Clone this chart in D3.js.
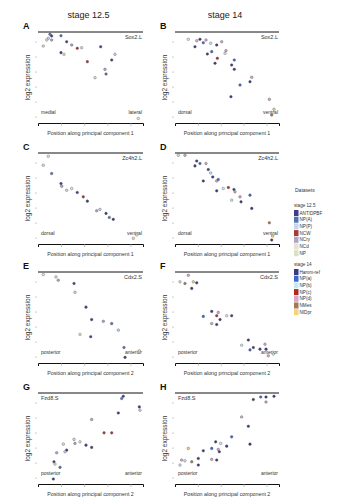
<!DOCTYPE html>
<html>
<head>
<meta charset="utf-8">
<script src="https://cdn.jsdelivr.net/npm/d3@7"></script>
<style>
  body { margin: 0; background: #fff; }
  svg { display: block; font-family: "Liberation Sans", Arial, sans-serif; }
</style>
</head>
<body>
<div id="chart"></div>
<script>
// data: [position along PC (0-100), log2 expression (0-10), dataset index]
const sox2S125 = [[11.4,9.75,1],[13.0,9.56,0],[9.8,9.31,2],[13.0,9.12,4],[8.3,9.12,5],[21.9,9.59,1],[5.0,8.46,6],[27.3,8.93,0],[32.1,8.57,4],[37.4,8.21,3],[41.6,8.27,2],[21.9,7.73,0],[24.8,7.55,5],[47.0,6.74,3],[59.7,8.38,0],[73.3,7.55,2],[70.2,6.92,0],[63.8,5.90,4],[64.8,5.38,1],[54.3,4.98,6],[95.5,0.5,5]];
const sox2S14 = [[12.8,9.20,2],[20.9,9.04,4],[24.0,9.20,0],[27.2,8.82,1],[29.8,9.12,4],[19.2,8.38,0],[34.3,8.76,2],[40.1,8.57,0],[44.9,8.93,4],[35.3,7.84,1],[31.1,7.58,0],[49.0,7.95,4],[48.1,7.66,2],[40.7,7.11,3],[38.5,6.56,0],[57.0,6.92,1],[54.5,6.37,0],[57.0,5.90,0],[73.8,5.02,4],[72.1,4.54,0],[62.5,4.18,1],[53.8,2.89,0],[90.7,2.60,4],[95.2,1.51,6],[93.0,0.88,5]];
const zc4h2S125 = [[9.8,9.64,5],[5.0,8.65,6],[13.0,7.74,1],[21.9,6.64,0],[22.6,6.35,4],[27.3,5.91,2],[32.1,6.10,5],[37.4,5.66,0],[43.1,5.18,3],[47.0,4.71,0],[59.0,3.80,2],[55.9,3.65,4],[64.8,3.36,0],[67.9,2.92,1],[71.7,2.71,0],[94.0,0.99,5],[90.8,0.62,6]];
const zc4h2S14 = [[3.2,9.75,2],[9.6,9.75,4],[20.9,9.12,0],[24.0,8.84,1],[19.2,8.58,0],[29.8,8.84,4],[32.0,8.18,0],[34.3,7.81,2],[36.3,7.37,0],[27.2,6.93,0],[40.1,6.93,4],[41.6,7.09,1],[46.4,6.10,2],[51.3,6.21,3],[56.7,5.99,0],[57.7,5.73,4],[40.1,5.84,0],[72.1,5.37,1],[62.5,5.18,4],[63.5,4.63,0],[54.5,4.82,2],[73.8,3.91,0],[90.7,2.33,5],[93.9,0.88,6],[93.0,0.44,0]];
const cdx2S125 = [[5.0,9.72,5],[17.1,9.46,6],[19.3,9.10,4],[34.3,8.74,0],[35.2,7.77,2],[45.7,6.14,0],[51.1,4.77,0],[62.2,4.58,4],[70.2,4.33,1],[76.5,3.61,2],[40.0,3.14,5],[50.2,2.89,0],[81.9,1.70,1],[96.5,1.33,6],[82.9,0.62,0]];
const cdx2S14 = [[12.8,9.64,4],[4.8,8.92,2],[9.6,8.74,5],[17.6,8.92,6],[20.9,8.81,0],[16.1,8.20,0],[35.3,5.67,0],[41.6,5.56,4],[27.2,5.12,1],[40.1,5.20,3],[43.3,4.77,0],[49.7,5.20,2],[54.5,5.20,0],[35.3,4.33,4],[40.1,4.23,0],[70.5,2.52,0],[64.1,1.95,2],[75.3,1.70,0],[86.5,2.06,4],[72.1,1.44,1],[81.7,1.52,0],[87.5,1.52,0],[94.5,0.98,2],[89.7,0.79,4]];
const fzd8S125 = [[81.2,9.64,0],[79.7,9.39,1],[96.5,8.47,0],[97.1,8.11,2],[76.5,7.81,0],[51.1,7.09,4],[62.9,5.62,3],[70.2,5.62,3],[34.3,4.90,2],[40.0,4.63,5],[35.2,4.46,4],[45.7,4.27,0],[51.1,4.02,0],[24.1,4.38,6],[27.3,3.72,0],[25.7,3.54,2],[17.8,3.43,4],[15.2,2.44,0],[21.0,1.83,1],[16.2,2.19,5],[14.6,0.55,0]];
const fzd8S14 = [[75.3,9.28,0],[82.4,9.56,1],[87.5,9.56,0],[95.2,9.64,0],[87.5,9.01,4],[64.1,7.37,4],[70.5,6.35,0],[54.5,5.18,1],[72.1,4.38,0],[39.1,4.63,0],[43.9,4.46,2],[49.7,4.16,0],[35.3,3.91,1],[41.6,3.80,4],[42.6,3.54,0],[27.2,3.65,0],[12.8,3.91,6],[22.4,2.81,0],[6.4,2.63,4],[9.6,2.55,2],[16.1,2.44,5],[22.4,2.08,0],[35.3,2.71,4],[40.1,2.63,0],[4.8,2.08,2]];

const stageTitles = ["stage 12.5", "stage 14"];
const datasets125 = ["ANT/DPBF", "NP(A)", "NP(P)", "NCW", "NCry", "NCd", "NP"];
const colors125 = ["#403f86", "#4f74ae", "#c8d5ee", "#a33b3b", "#b2a3c8", "#e8e1d0", "#dfe0c3"];
const datasets14 = ["Hamm-ref", "NP(a)", "NP(b)", "NP(c)", "NP(d)", "NMes", "NIDpr"];
const colors14 = ["#3a3a80", "#3b67d0", "#c7e8ee", "#b22a1e", "#d8a6c6", "#a47a52", "#f4d479"];
const xTicks = [22, 44, 66, 88];
const yTicks = [0.7, 2.35, 4, 5.65, 7.3, 8.95];

const panels = [
    {letter: "A", gene: "Sox2.L", data: sox2S125, stage: 0, pc: 1, lo: "medial", hi: "lateral"},
    {letter: "B", gene: "Sox2.L", data: sox2S14, stage: 1, pc: 1, lo: "dorsal", hi: "ventral"},
    {letter: "C", gene: "Zc4h2.L", data: zc4h2S125, stage: 0, pc: 1, lo: "dorsal", hi: "ventral"},
    {letter: "D", gene: "Zc4h2.L", data: zc4h2S14, stage: 1, pc: 1, lo: "dorsal", hi: "ventral"},
    {letter: "E", gene: "Cdx2.S", data: cdx2S125, stage: 0, pc: 2, lo: "posterior", hi: "anterior"},
    {letter: "F", gene: "Cdx2.S", data: cdx2S14, stage: 1, pc: 2, lo: "posterior", hi: "anterior"},
    {letter: "G", gene: "Fzd8.S", data: fzd8S125, stage: 0, pc: 2, lo: "posterior", hi: "anterior", geneLeft: true},
    {letter: "H", gene: "Fzd8.S", data: fzd8S14, stage: 1, pc: 2, lo: "posterior", hi: "anterior", geneLeft: true}
];

const w = 353;
const h = 500;
const cols = [{x0: 38, x1: 143}, {x0: 175, x1: 279}];
const rowTops = [32, 153, 272, 393];
const plotH = 91;

const svg = d3.select('#chart')
    .append('svg')
    .attr('width', w)
    .attr('height', h);

// Stage titles
stageTitles.forEach((t, i) => {
    svg.append('text')
        .attr('x', (cols[i].x0 + cols[i].x1) / 2 - 2)
        .attr('y', 18)
        .attr('text-anchor', 'middle')
        .attr('font-size', 9)
        .attr('fill', '#222')
        .text(t);
});

panels.forEach((p, i) => {
    const col = cols[i % 2];
    const top = rowTops[Math.floor(i / 2)];
    const bottom = top + plotH;
    const colors = p.stage === 0 ? colors125 : colors14;

    const xScale = d3.scaleLinear().domain([0, 100]).range([col.x0, col.x1]);
    const yScale = d3.scaleLinear().domain([0, 10]).range([bottom, top]);

    const g = svg.append('g');

    // panel letter
    g.append('text')
        .attr('x', col.x0 - 15)
        .attr('y', top - 3)
        .attr('font-size', 9)
        .attr('font-weight', 'bold')
        .attr('fill', '#111')
        .text(p.letter);

    // top frame line
    g.append('line')
        .attr('x1', col.x0).attr('x2', col.x1)
        .attr('y1', top).attr('y2', top)
        .attr('stroke', '#111').attr('stroke-width', 1);

    // x axis
    const xAxis = d3.axisBottom(xScale)
        .tickValues(xTicks)
        .tickSize(3)
        .tickFormat('');
    const xg = g.append('g')
        .attr('transform', `translate(0, ${bottom})`)
        .call(xAxis);
    xg.select('.domain').attr('stroke', '#111').attr('stroke-width', 1);
    xg.selectAll('.tick line').attr('stroke', '#999').attr('stroke-width', 0.6);

    // y axis (ticks only)
    const yAxis = d3.axisLeft(yScale)
        .tickValues(yTicks)
        .tickSize(2)
        .tickFormat('');
    const yg = g.append('g')
        .attr('transform', `translate(${col.x0 - 1}, 0)`)
        .call(yAxis);
    yg.select('.domain').remove();
    yg.selectAll('.tick line').attr('stroke', '#aaa').attr('stroke-width', 0.6);

    // axis titles
    g.append('text')
        .attr('transform', `translate(${col.x0 - 8}, ${top + plotH / 2}) rotate(-90)`)
        .attr('text-anchor', 'middle')
        .attr('font-size', 6.5)
        .attr('fill', '#333')
        .text('log2 expression');
    g.append('text')
        .attr('x', (col.x0 + col.x1) / 2)
        .attr('y', bottom + 12)
        .attr('text-anchor', 'middle')
        .attr('font-size', 5.3)
        .attr('fill', '#333')
        .text('Position along principal component ' + p.pc);

    // gene name
    g.append('text')
        .attr('x', p.geneLeft ? col.x0 + 3 : col.x1 - 1)
        .attr('y', top + 7)
        .attr('text-anchor', p.geneLeft ? 'start' : 'end')
        .attr('font-size', 5.5)
        .attr('fill', '#333')
        .text(p.gene);

    // axis direction labels
    g.append('text')
        .attr('x', col.x0 + 3)
        .attr('y', bottom - 9)
        .attr('font-size', 5)
        .attr('fill', '#333')
        .text(p.lo);
    g.append('text')
        .attr('x', col.x1 - 1)
        .attr('y', bottom - 9)
        .attr('text-anchor', 'end')
        .attr('font-size', 5)
        .attr('fill', '#333')
        .text(p.hi);

    // points
    g.selectAll('circle')
        .data(p.data)
        .join('circle')
        .attr('cx', d => xScale(d[0]))
        .attr('cy', d => yScale(d[1]))
        .attr('r', 1.3)
        .attr('fill', d => colors[d[2]])
        .attr('stroke', '#555')
        .attr('stroke-width', 0.4);
});

// Legend
const legend = svg.append('g').attr('font-size', 4.6).attr('fill', '#333');
legend.append('text').attr('x', 295).attr('y', 192).attr('font-size', 5).text('Datasets');

const drawGroup = (title, names, colors, y0) => {
    legend.append('text').attr('x', 294).attr('y', y0).text(title);
    names.forEach((n, k) => {
        const y = y0 + 3 + k * 6.7;
        legend.append('rect')
            .attr('x', 294).attr('y', y)
            .attr('width', 4.5).attr('height', 6)
            .attr('fill', colors[k]);
        legend.append('text')
            .attr('x', 299.5).attr('y', y + 4.5)
            .text(n);
    });
};
drawGroup('stage 12.5', datasets125, colors125, 207);
drawGroup('stage 14', datasets14, colors14, 266);
</script>
</body>
</html>
